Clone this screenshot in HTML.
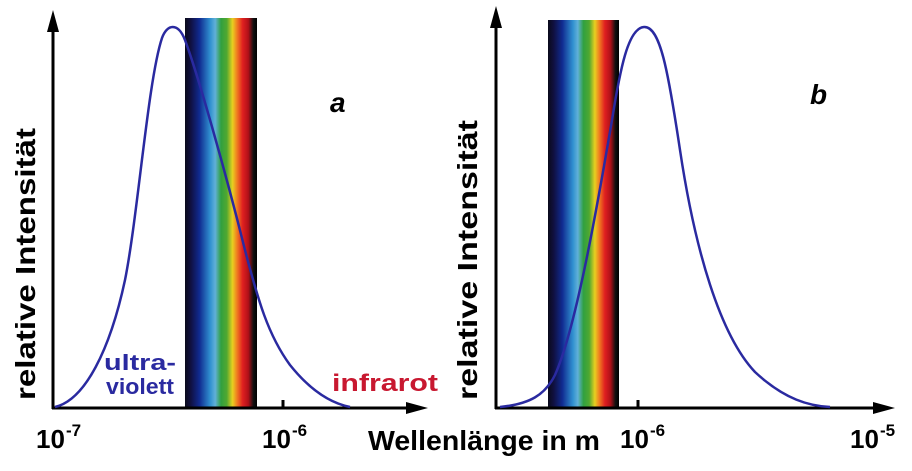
<!DOCTYPE html>
<html><head><meta charset="utf-8"><style>
body{margin:0;background:#fff;}
svg{display:block}
text{font-family:"Liberation Sans",sans-serif;font-weight:bold;}
</style></head><body>
<svg width="912" height="471" viewBox="0 0 912 471" xmlns="http://www.w3.org/2000/svg">
<defs>
<linearGradient id="sp" x1="0" x2="1" y1="0" y2="0">
<stop offset="0" stop-color="#0a0a1a"/>
<stop offset="0.08" stop-color="#101040"/>
<stop offset="0.2" stop-color="#102a90"/>
<stop offset="0.35" stop-color="#3090d0"/>
<stop offset="0.42" stop-color="#60b0d8"/>
<stop offset="0.5" stop-color="#30a040"/>
<stop offset="0.58" stop-color="#50a830"/>
<stop offset="0.66" stop-color="#e8d020"/>
<stop offset="0.72" stop-color="#f08020"/>
<stop offset="0.8" stop-color="#e02020"/>
<stop offset="0.88" stop-color="#b01018"/>
<stop offset="0.95" stop-color="#101010"/>
<stop offset="1" stop-color="#000"/>
</linearGradient>
</defs>
<rect width="912" height="471" fill="#fff"/>
<rect x="185" y="18" width="72" height="390" fill="url(#sp)"/>
<rect x="548" y="20" width="71" height="388" fill="url(#sp)"/>
<g stroke="#000" stroke-width="3" fill="none">
<line x1="53" y1="20" x2="53" y2="409"/>
<line x1="52" y1="408" x2="418" y2="408"/>
<line x1="496" y1="14" x2="496" y2="409"/>
<line x1="495" y1="408" x2="885" y2="408"/>
<line x1="283" y1="408" x2="283" y2="400"/>
<line x1="638" y1="408" x2="638" y2="400"/>
</g>
<g fill="#000">
<polygon points="53,10 47,32 59,32"/>
<polygon points="428,408 406,402 406,414"/>
<polygon points="496,6 490,28 502,28"/>
<polygon points="895,408 873,402 873,414"/>
</g>
<path d="M55,407 C85,400 110,350 125,280 C138,215 148,80 162,38 C167,24 178,22 185,40 C198,75 225,170 245,250 C258,300 268,335 290,365 C310,390 330,403 350,407" fill="none" stroke="#2a2aa0" stroke-width="2.5"/>
<path d="M500,407 C530,404 545,395 555,375 C575,330 595,220 612,120 C620,70 628,28 644,27 C660,26 668,70 680,150 C695,250 720,335 755,372 C785,400 810,406 830,407" fill="none" stroke="#2a2aa0" stroke-width="2.5"/>
<text x="36" y="448" font-size="26">10</text>
<text x="66" y="436" font-size="17">-7</text>
<text x="262" y="448" font-size="26">10</text>
<text x="292" y="436" font-size="17">-6</text>
<text x="368" y="450" font-size="28" textLength="232" lengthAdjust="spacingAndGlyphs">Wellenlänge in m</text>
<text x="620" y="448" font-size="26">10</text>
<text x="650" y="436" font-size="17">-6</text>
<text x="850" y="448" font-size="26">10</text>
<text x="880" y="436" font-size="17">-5</text>
<text x="330" y="112" font-size="28" font-style="italic">a</text>
<text x="810" y="104" font-size="28" font-style="italic">b</text>
<text x="104" y="370" font-size="22" fill="#2a2aa0" textLength="72" lengthAdjust="spacingAndGlyphs">ultra-</text>
<text x="106" y="394" font-size="22" fill="#2a2aa0" textLength="68" lengthAdjust="spacingAndGlyphs">violett</text>
<text x="332" y="391" font-size="24" fill="#c81830" textLength="106" lengthAdjust="spacingAndGlyphs">infrarot</text>
<text transform="translate(35,400) rotate(-90)" font-size="28" textLength="272" lengthAdjust="spacingAndGlyphs">relative Intensität</text>
<text transform="translate(477,400) rotate(-90)" font-size="28" textLength="280" lengthAdjust="spacingAndGlyphs">relative Intensität</text>
</svg>
</body></html>
